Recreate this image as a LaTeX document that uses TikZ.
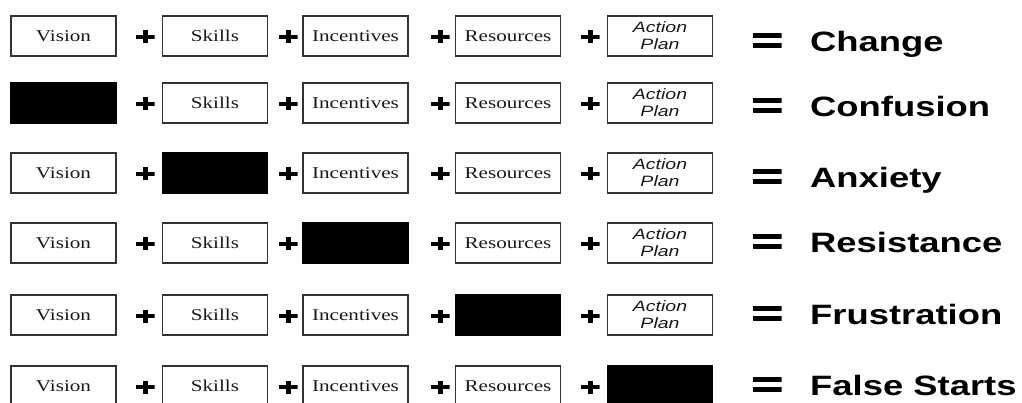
\documentclass[tikz,border=0pt]{standalone}
\usepackage{fontspec}
\setmainfont{Liberation Serif}
\newfontfamily\arialfont{Liberation Sans}
\usepackage{graphicx}
\newcommand\hs[1]{\scalebox{1.28}[1]{#1}}
\newcommand\hr[1]{\scalebox{1.3}[1]{#1}}
\tikzset{
  cell/.style={draw=black!80, line width=1.1pt, minimum width=105pt, minimum height=40pt,
    inner sep=0pt, font=\fontsize{16.5}{18}\selectfont, text=black!90},
  blank/.style={cell, fill=black, draw=black},
  actioncell/.style={cell, font=\arialfont\itshape\fontsize{15}{17}\selectfont, align=center},
  plusmark/.style={minimum width=19pt, minimum height=13pt, inner sep=0pt,
    path picture={
      \fill[black] ([yshift=-2.1pt]path picture bounding box.west) rectangle ([yshift=2.1pt]path picture bounding box.east);
      \fill[black] ([xshift=-2.5pt]path picture bounding box.north) rectangle ([xshift=2.5pt]path picture bounding box.south);
    }},
  eqmark/.style={minimum width=29pt, minimum height=15pt, inner sep=0pt,
    path picture={
      \fill[black] (path picture bounding box.north west) rectangle ([yshift=-5pt]path picture bounding box.north east);
      \fill[black] (path picture bounding box.south west) rectangle ([yshift=5pt]path picture bounding box.south east);
    }},
  result/.style={anchor=base west, inner sep=0pt, font=\arialfont\bfseries\fontsize{28}{30}\selectfont}
}
\begin{document}
\begin{tikzpicture}[x=1pt, y=-1pt]
\useasboundingbox (0,0) rectangle (1022,403);
\foreach \r/\y/\b/\bl/\res in {1/36/0/52/Change, 2/103/1/117/Confusion, 3/173/2/188/Anxiety,
    4/243/3/253/Resistance, 5/315/4/324/Frustration, 6/386/5/395/False Starts} {
  \foreach \c/\x/\lab in {1/63.5/Vision, 2/215/Skills, 3/355.5/Incentives, 4/508/Resources} {
    \ifnum\c=\b
      \node[blank] (b\r-\c) at (\x,\y) {};
    \else
      \node[cell] (b\r-\c) at (\x,\y) {\hs{\lab}};
    \fi
  }
  \ifnum\b=5
    \node[blank] (b\r-5) at (660,\y) {};
  \else
    \node[actioncell] (b\r-5) at (660,\y) {\hr{Action}\\\hr{Plan}};
  \fi
  \foreach \c/\x in {1/145, 2/288, 3/440, 4/590} {
    \node[plusmark] (p\r-\c) at (\x,\y+1) {};
  }
  \node[eqmark] (eq\r) at (767,\bl-11) {};
  \node[result] (res\r) at (810,\bl) {\hr{\res}};
}
\end{tikzpicture}
\end{document}
